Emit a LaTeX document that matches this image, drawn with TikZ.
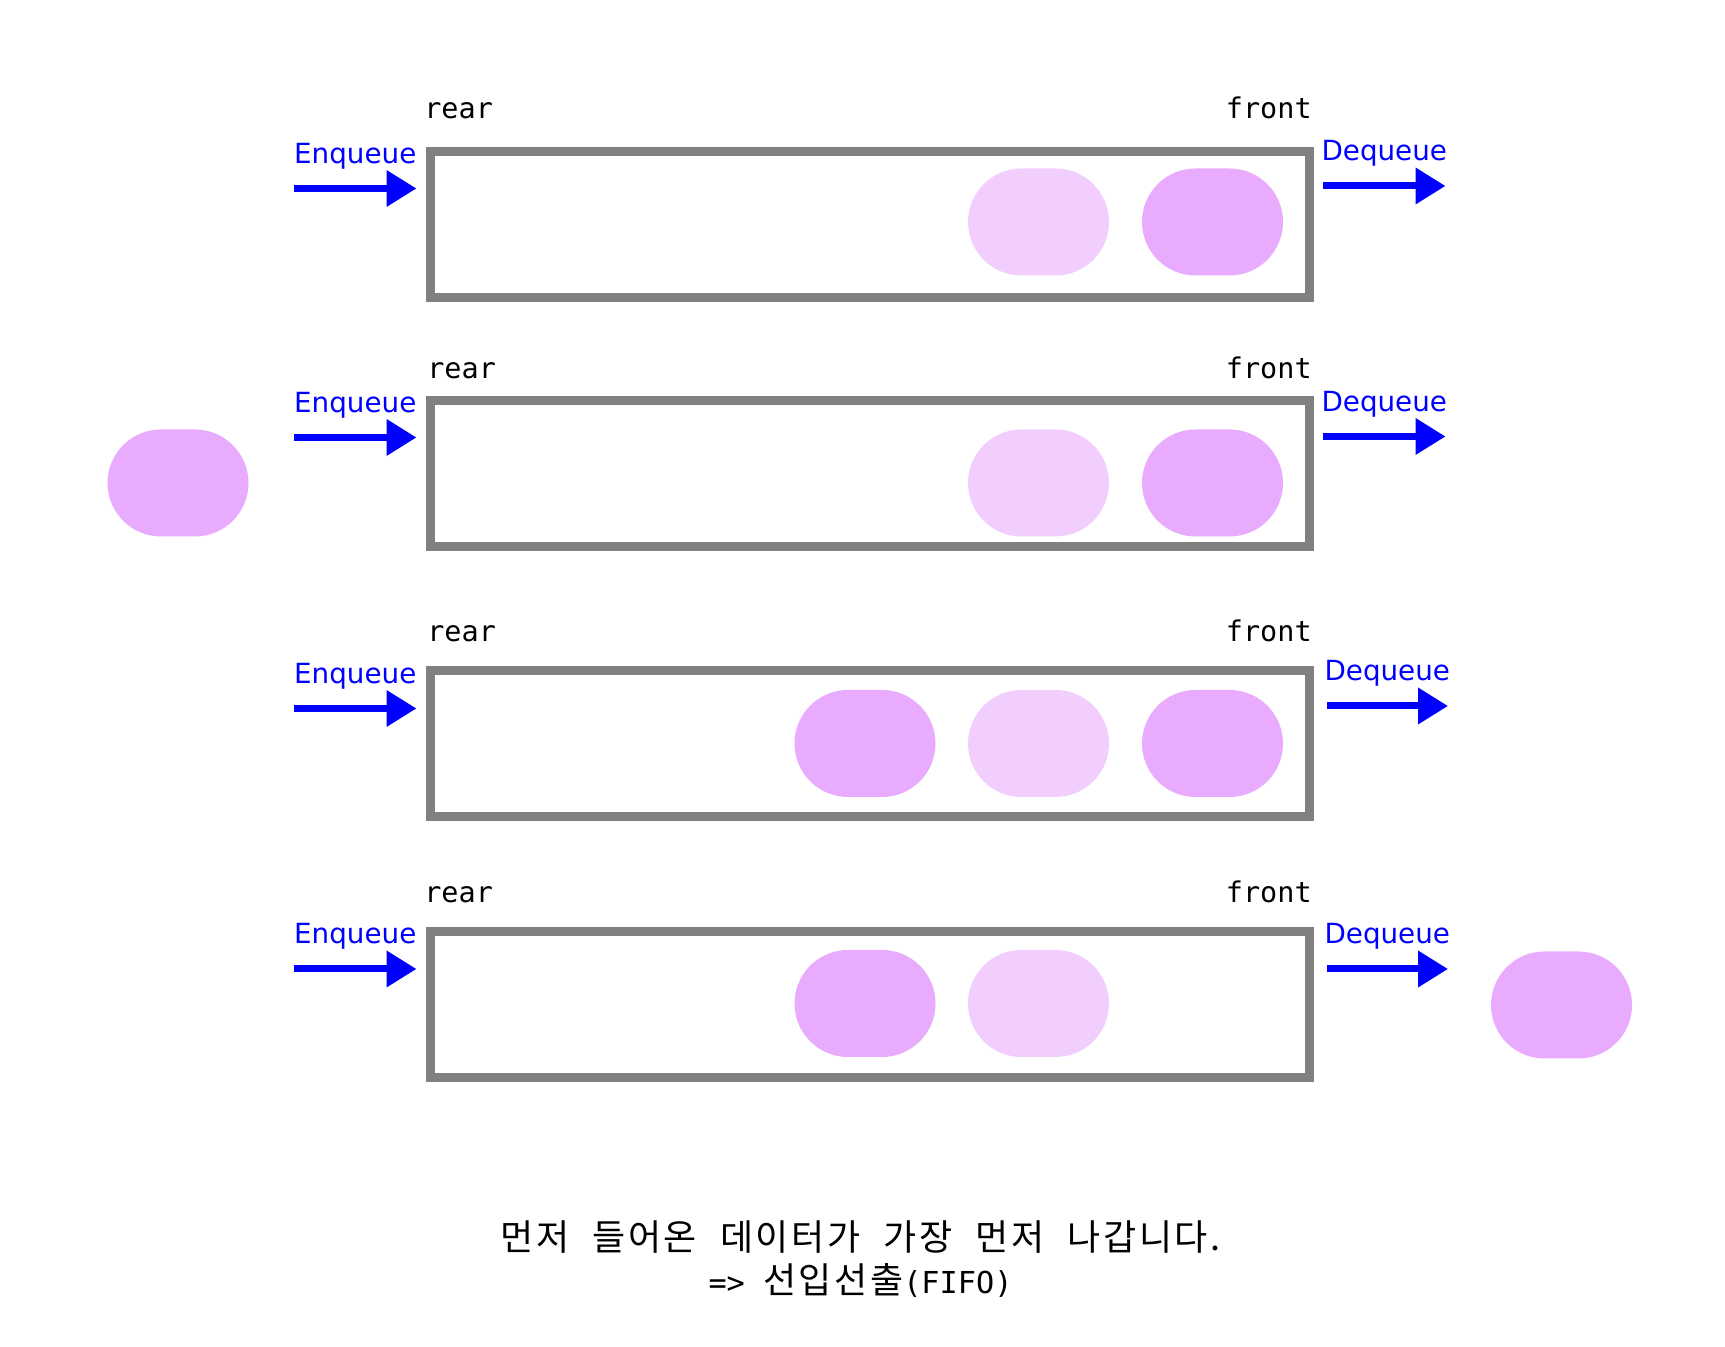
\documentclass[tikz,border=0pt]{standalone}
\usepackage{fontspec}
\setmainfont{DejaVu Sans}
\setmonofont{DejaVu Sans Mono}
\newfontfamily\krfont[WordSpace=2.2, LetterSpace=7]{Noto Sans CJK KR}
\usetikzlibrary{arrows.meta}
\definecolor{boxgray}{HTML}{808080}
\definecolor{opblue}{HTML}{0000FF}
\definecolor{pilldark}{HTML}{E9ABFD}
\definecolor{pilllight}{HTML}{F1CEFE}
\tikzset{
  queue/.style={
    draw=boxgray,
    line width=0.18cm,
    fill=white,
    inner sep=0pt,
    minimum width=17.58cm,
    minimum height=2.92cm
  },
  item/.style={rounded corners=1.07cm, inner sep=0pt, minimum width=2.82cm, minimum height=2.14cm},
  itemfull/.style={item, fill=pilldark},
  itemfaded/.style={item, fill=pilllight},
  pointer/.style={font=\fontsize{16.2}{19}\selectfont\ttfamily, inner sep=0pt},
  oparrow/.style={draw=opblue, line width=0.14cm, -{Triangle[length=0.6cm, width=0.7cm]}},
  oplabel/.style={font=\fontsize{15.8}{19}\selectfont, text=opblue, anchor=base, yshift=0.5cm, inner sep=0pt},
  caption/.style={font=\fontsize{20.5}{24.5}\selectfont\krfont, align=center, inner sep=0pt}
}
\newcommand{\monotxt}[1]{{\fontsize{17.2}{24.5}\selectfont\ttfamily #1}}

\begin{document}
\begin{tikzpicture}[x=1cm,y=1cm]
\useasboundingbox (0,0) rectangle (34.5,26.94);

% --- Row 1: two items waiting ---
\node[queue] (q1) at (17.4,22.45) {};
\node[pointer, anchor=base west] (rear1) at (8.48,24.57) {rear};
\node[pointer, anchor=base east] (front1) at (26.24,24.57) {front};
\node[itemfaded] (a1) at (20.77,22.50) {};
\node[itemfull] (b1) at (24.25,22.50) {};
\coordinate (enq1) at (5.88,23.17);
\coordinate (enq1tip) at (8.33,23.17);
\coordinate (deq1) at (26.46,23.22);
\coordinate (deq1tip) at (28.91,23.22);
\draw[oparrow] (enq1) -- (enq1tip) node[oplabel, midway] (enqlbl1) {Enqueue};
\draw[oparrow] (deq1) -- (deq1tip) node[oplabel, midway] (deqlbl1) {Dequeue};

% --- Row 2: new item arrives ---
\node[queue] (q2) at (17.4,17.46) {};
\node[pointer, anchor=base west] (rear2) at (8.54,19.36) {rear};
\node[pointer, anchor=base east] (front2) at (26.24,19.36) {front};
\node[itemfull] (new2) at (3.56,17.28) {};
\node[itemfaded] (a2) at (20.77,17.28) {};
\node[itemfull] (b2) at (24.25,17.28) {};
\coordinate (enq2) at (5.88,18.19);
\coordinate (enq2tip) at (8.33,18.19);
\coordinate (deq2) at (26.46,18.21);
\coordinate (deq2tip) at (28.91,18.21);
\draw[oparrow] (enq2) -- (enq2tip) node[oplabel, midway] (enqlbl2) {Enqueue};
\draw[oparrow] (deq2) -- (deq2tip) node[oplabel, midway] (deqlbl2) {Dequeue};

% --- Row 3: item enqueued at rear ---
\node[queue] (q3) at (17.4,12.06) {};
\node[pointer, anchor=base west] (rear3) at (8.54,14.11) {rear};
\node[pointer, anchor=base east] (front3) at (26.24,14.11) {front};
\node[itemfull] (c3) at (17.30,12.07) {};
\node[itemfaded] (a3) at (20.77,12.07) {};
\node[itemfull] (b3) at (24.25,12.07) {};
\coordinate (enq3) at (5.88,12.77);
\coordinate (enq3tip) at (8.33,12.77);
\coordinate (deq3) at (26.53,12.82);
\coordinate (deq3tip) at (28.96,12.82);
\draw[oparrow] (enq3) -- (enq3tip) node[oplabel, midway] (enqlbl3) {Enqueue};
\draw[oparrow] (deq3) -- (deq3tip) node[oplabel, midway] (deqlbl3) {Dequeue};

% --- Row 4: front item dequeued ---
\node[queue] (q4) at (17.4,6.84) {};
\node[pointer, anchor=base west] (rear4) at (8.48,8.89) {rear};
\node[pointer, anchor=base east] (front4) at (26.24,8.89) {front};
\node[itemfull] (c4) at (17.30,6.87) {};
\node[itemfaded] (a4) at (20.77,6.87) {};
\node[itemfull] (out4) at (31.23,6.84) {};
\coordinate (enq4) at (5.88,7.56);
\coordinate (enq4tip) at (8.33,7.56);
\coordinate (deq4) at (26.53,7.56);
\coordinate (deq4tip) at (28.96,7.56);
\draw[oparrow] (enq4) -- (enq4tip) node[oplabel, midway] (enqlbl4) {Enqueue};
\draw[oparrow] (deq4) -- (deq4tip) node[oplabel, midway] (deqlbl4) {Dequeue};

% --- Caption ---
\node[caption] (fifo) at (17.21,1.76)
  {먼저 들어온 데이터가 가장 먼저 나갑니다.\\\monotxt{=> }선입선출\monotxt{(FIFO)}};

\end{tikzpicture}
\end{document}
